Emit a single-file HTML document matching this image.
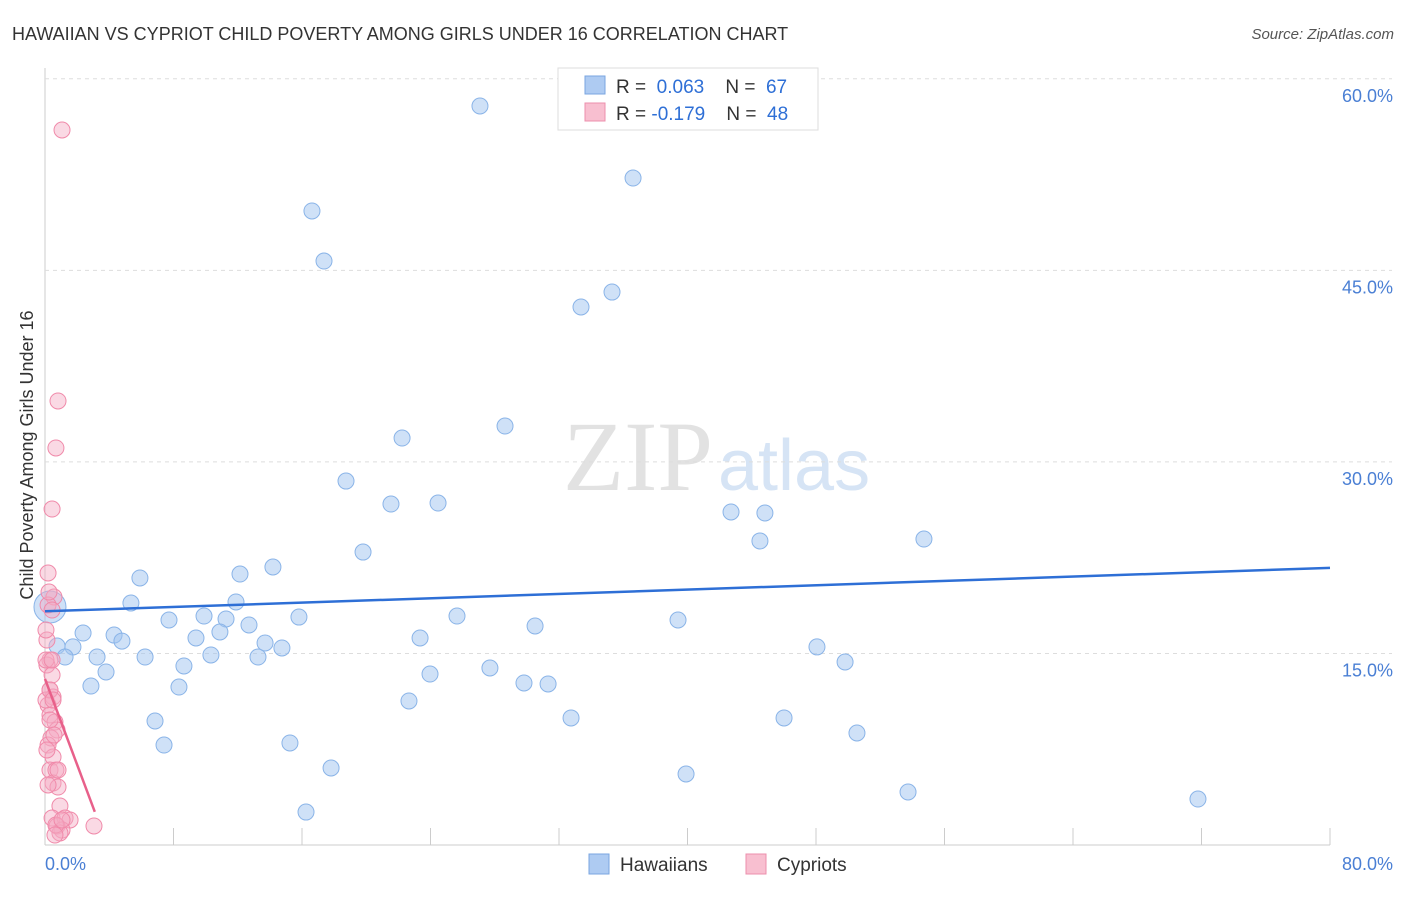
<!DOCTYPE html>
<html><head><meta charset="utf-8"><style>
body{margin:0;background:#fff;font-family:"Liberation Sans",sans-serif;}
</style></head><body>
<svg id="c" width="1406" height="892" style="font-family:'Liberation Sans',sans-serif">
<text x="12" y="40" font-size="18" fill="#333">HAWAIIAN VS CYPRIOT CHILD POVERTY AMONG GIRLS UNDER 16 CORRELATION CHART</text>
<text x="1394" y="39" font-size="15" fill="#555" text-anchor="end" font-style="italic">Source: ZipAtlas.com</text>
<text x="713" y="490" font-size="100" fill="#e2e2e2" text-anchor="end" style="font-family:'Liberation Serif',serif">ZIP</text>
<text x="718" y="490" font-size="72" fill="#d6e4f5">atlas</text>
<text transform="translate(33,455) rotate(-90)" font-size="18" fill="#333" text-anchor="middle">Child Poverty Among Girls Under 16</text>
<g id="grid"></g><g id="pts"></g><g id="lines"></g>
<g>
<rect x="558" y="68" width="260" height="62" fill="#fff" stroke="#ddd"/>
<rect x="585" y="76" width="20" height="18" fill="#aecbf2" stroke="#7aa6e0"/>
<text x="616" y="93" font-size="19" fill="#333" xml:space="preserve">R =  <tspan fill="#2e6fd6">0.063</tspan>    N =  <tspan fill="#2e6fd6">67</tspan></text>
<rect x="585" y="103" width="20" height="18" fill="#f8bfd0" stroke="#ec8fac"/>
<text x="616" y="120" font-size="19" fill="#333" xml:space="preserve">R = <tspan fill="#2e6fd6">-0.179</tspan>    N =  <tspan fill="#2e6fd6">48</tspan></text>
</g>
<g>
<rect x="589" y="854" width="20" height="20" fill="#aecbf2" stroke="#7aa6e0"/>
<text x="620" y="871" font-size="19" fill="#333">Hawaiians</text>
<rect x="746" y="854" width="20" height="20" fill="#f8bfd0" stroke="#ec8fac"/>
<text x="777" y="871" font-size="19" fill="#333">Cypriots</text>
</g>
</svg>
<script>
const xTicks=[0,80];
const yTicks=[15,30,45,60];
const blueX=[],blueY=[],pinkX=[],pinkY=[];
const bluePx=[[480,106],[633,178],[312,211],[324,261],[581,307],[612,292],[402,438],[505,426],[346,481],[391,504],[438,503],[731,512],[765,513],[760,541],[924,539],[363,552],[140,578],[240,574],[273,567],[131,603],[236,602],[169,620],[204,616],[226,619],[249,625],[299,617],[457,616],[535,626],[678,620],[83,633],[114,635],[122,641],[196,638],[220,632],[265,643],[282,648],[420,638],[57,646],[73,647],[65,657],[97,657],[145,657],[184,666],[211,655],[258,657],[490,668],[430,674],[817,647],[845,662],[106,672],[91,686],[179,687],[524,683],[548,684],[409,701],[155,721],[571,718],[784,718],[857,733],[164,745],[290,743],[331,768],[686,774],[908,792],[1198,799],[306,812],[50,607]];
const pinkPx=[[62,130],[58,401],[56,448],[52,509],[48,573],[54,597],[48,605],[50,660],[47,665],[52,675],[50,690],[53,697],[48,705],[50,715],[55,722],[57,730],[51,738],[48,745],[53,757],[50,770],[56,770],[53,783],[58,787],[60,806],[52,818],[65,818],[70,820],[57,826],[62,830],[60,833],[94,826],[47,640],[50,720],[46,700],[52,610],[49,592],[46,660],[54,735],[48,785],[56,825],[62,820],[50,690],[52,660],[47,750],[58,770],[46,630],[53,700],[55,835]];
for(const p of bluePx){blueX.push(+((p[0]-45)/1285*80).toFixed(2));blueY.push(+((845-p[1])/12.77).toFixed(2));}
for(const p of pinkPx){pinkX.push(+((p[0]-45)/1285*80).toFixed(2));pinkY.push(+((845-p[1])/12.77).toFixed(2));}
const blueTrend=[18.3,21.7];
const pinkTrend=[13.0,2.6],pinkEndX=3.1;
const X=v=>45+v/80*1285, Y=v=>845-v*12.77;
const ns="http://www.w3.org/2000/svg";
function mk(t,a,parent){const e=document.createElementNS(ns,t);for(const k in a)e.setAttribute(k,a[k]);document.getElementById(parent).appendChild(e);return e;}
let e=mk('line',{x1:45,y1:68,x2:45,y2:845,stroke:'#ccc'},'grid');

e=mk('line',{x1:45,y1:845,x2:1330,y2:845,stroke:'#ccc'},'grid');

for(let i=0;i<=10;i++){e=mk('line',{x1:X(i*8),y1:828,x2:X(i*8),y2:845,stroke:'#ccc'},'grid');
}
for(const t of yTicks){e=mk('line',{x1:45,y1:Y(t),x2:1392,y2:Y(t),stroke:'#ddd','stroke-dasharray':'4,4'},'grid');

e=mk('text',{x:1393,y:Y(t)+23,'text-anchor':'end','font-size':18,fill:'#4a7fd4'},'grid');e.textContent=t.toFixed(1)+'%';
}
e=mk('text',{x:45,y:870,'font-size':18,fill:'#4a7fd4'},'grid');e.textContent=xTicks[0].toFixed(1)+'%';

e=mk('text',{x:1393,y:870,'text-anchor':'end','font-size':18,fill:'#4a7fd4'},'grid');e.textContent=xTicks[1].toFixed(1)+'%';

blueX.forEach((v,i)=>{const big=i===blueX.length-1;e=mk('circle',{cx:X(v),cy:Y(blueY[i]),r:big?16:8,fill:'rgba(160,196,240,0.5)',stroke:'#8ab4e8'},'pts');
});
pinkX.forEach((v,i)=>{e=mk('circle',{cx:X(v),cy:Y(pinkY[i]),r:8,fill:'rgba(245,170,195,0.45)',stroke:'#f08aaa'},'pts');
});
e=mk('line',{x1:X(0),y1:Y(blueTrend[0]),x2:X(80),y2:Y(blueTrend[1]),stroke:'#2e6fd6','stroke-width':2.5},'lines');

e=mk('line',{x1:X(0),y1:Y(pinkTrend[0]),x2:X(pinkEndX),y2:Y(pinkTrend[1]),stroke:'#e8608a','stroke-width':2.5},'lines');

</script>
</body></html>
